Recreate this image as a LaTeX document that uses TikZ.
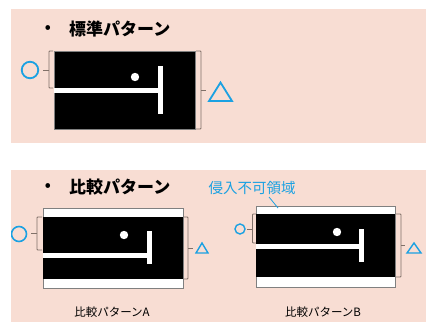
\documentclass[tikz,border=0pt]{standalone}
\usepackage{fontspec}
\newfontfamily\jp{Noto Sans CJK JP}
\definecolor{bgpink}{HTML}{F8DDD3}
\definecolor{cy}{HTML}{1BA1E2}
\definecolor{brk}{HTML}{807068}
\definecolor{edge}{HTML}{808080}
\tikzset{
  panel/.style={fill=bgpink},
  blackbox/.style={fill=black},
  outerbox/.style={fill=white,draw=edge,line width=0.8pt},
  wbar/.style={fill=white},
  bracket/.style={draw=brk,line width=0.9pt,rounded corners=0.8pt},
  cymark/.style={draw=cy,line width=1.8pt},
  cymarksmall/.style={draw=cy,line width=1.4pt},
  title/.style={anchor=west,inner sep=0pt,font=\jp\bfseries\fontsize{17}{17}\selectfont},
  bulletnode/.style={inner sep=0pt,font=\jp\bfseries\fontsize{15}{15}\selectfont},
  caption/.style={inner sep=0pt,font=\jp\fontsize{11.5}{12}\selectfont},
  cyanlabel/.style={inner sep=0pt,text=cy,font=\jp\fontsize{14.5}{15}\selectfont}
}
\begin{document}
\begin{tikzpicture}[x=1pt,y=-1pt]
\useasboundingbox (0,0) rectangle (432,325);
% panels
\fill[panel] (11,9) rectangle (426,143);
\fill[panel] (11,170) rectangle (426,322);

% ===== standard pattern =====
\node[bulletnode] (b1) at (48,29) {•};
\node[title] (t1) at (69,29) {標準パターン};
\fill[blackbox] (54,51) rectangle (195,129);
\draw[edge,line width=0.8pt] (54,51) rectangle (195,129);
\fill[wbar] (54.4,88) rectangle (162,92.5);
\fill[wbar] (158,66) rectangle (163,114);
\fill[white] (135,77) circle (4.2);
\draw[bracket] (53,51) -- (49,51) -- (49,88) -- (53,88);
\draw[bracket] (49,70) -- (43,70);
\draw[bracket] (196,51) -- (201,51) -- (201,129) -- (196,129);
\draw[bracket] (201,90) -- (206,90);
\node[cymark,circle,minimum size=16.5pt,inner sep=0pt] (c1) at (30,70) {};
\draw[cymark,line join=miter] (209,101) -- (220.5,82.5) -- (232,101) -- cycle;

% ===== comparison title =====
\node[bulletnode] (b2) at (48,187) {•};
\node[title] (t2) at (69,187) {比較パターン};

% ===== pattern A =====
\draw[outerbox] (43,208) rectangle (183,288);
\fill[blackbox] (43,217) rectangle (183,279);
\fill[wbar] (43.4,253) rectangle (150,257.5);
\fill[wbar] (147,231) rectangle (152,264);
\fill[white] (124,235) circle (4.2);
\draw[bracket] (42,217) -- (37,217) -- (37,250) -- (42,250);
\draw[bracket] (37,233) -- (31,233);
\draw[bracket] (183.5,217) -- (188,217) -- (188,279) -- (183.5,279);
\draw[bracket] (188,248) -- (193,248);
\begin{scope}
\clip (11,170) rectangle (426,322);
\node[cymark,circle,minimum size=15pt,inner sep=0pt,line width=1.6pt] (cA) at (19,234) {};
\end{scope}
\draw[cymarksmall,line join=miter] (196,253) -- (202,243) -- (208,253) -- cycle;
\node[caption] (capA) at (112,312) {比較パターンA};

% ===== pattern B =====
\draw[outerbox] (256,206) rectangle (395,287);
\fill[blackbox] (256,214) rectangle (395,277);
\fill[wbar] (256.4,244) rectangle (364,248.5);
\fill[wbar] (359,229) rectangle (364,262);
\fill[white] (337,232) circle (4.2);
\draw[bracket] (256,214) -- (252.5,214) -- (252.5,243) -- (256,243);
\draw[bracket] (252.5,229) -- (247,229);
\draw[bracket] (395.5,214) -- (401,214) -- (401,277) -- (395.5,277);
\draw[bracket] (401,245) -- (405,245);
\node[cymarksmall,circle,minimum size=10pt,inner sep=0pt] (cB) at (240,229) {};
\draw[cymarksmall,line join=miter] (407,253) -- (414,243) -- (421,253) -- cycle;
\node[caption] (capB) at (323,312) {比較パターンB};

% label
\node[cyanlabel] (lab) at (252,188) {侵入不可領域};
\coordinate (labtip) at (278,208);
\draw[cy,line width=0.8pt] (269,197) -- (labtip);
\end{tikzpicture}
\end{document}
